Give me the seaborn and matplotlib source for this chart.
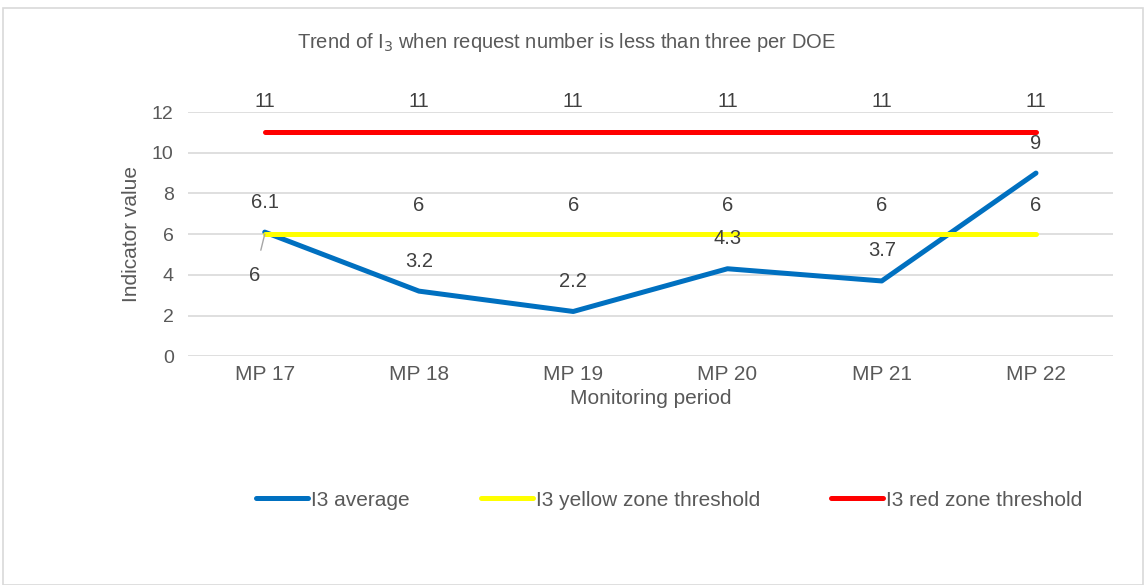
import pandas as pd
import matplotlib.pyplot as plt
import seaborn as sns
from matplotlib.patches import Rectangle

periods = ["MP 17", "MP 18", "MP 19", "MP 20", "MP 21", "MP 22"]
i3_average = [6.1, 3.2, 2.2, 4.3, 3.7, 9]
yellow_threshold = [6, 6, 6, 6, 6, 6]
red_threshold = [11, 11, 11, 11, 11, 11]

series_names = ["I3 average", "I3 yellow zone threshold", "I3 red zone threshold"]
series_colors = ["#0070C0", "#FFFF00", "#FF0000"]

rows = []
for name, vals in zip(series_names, [i3_average, yellow_threshold, red_threshold]):
    for p, v in zip(periods, vals):
        rows.append({"period": p, "value": v, "series": name})
df = pd.DataFrame(rows)

sns.set_theme(style="white")
plt.rcParams["font.family"] = ["Liberation Sans", "DejaVu Sans"]

fig = plt.figure(figsize=(11.44, 5.85), dpi=100)
ax = fig.add_axes([0.164, 0.391, 0.809, 0.4175])

sns.lineplot(data=df, x="period", y="value", hue="series", hue_order=series_names,
             palette=series_colors, linewidth=3.6, ax=ax, sort=False, legend=False,
             solid_capstyle="round")

ax.set_xlim(-0.5, len(periods) - 0.5)
ax.set_ylim(0, 12)
ax.set_yticks(range(0, 13, 2))
ax.yaxis.grid(True, color="#D9D9D9", linewidth=1.2)
ax.set_axisbelow(True)
for s in ax.spines.values():
    s.set_visible(False)
ax.tick_params(axis="x", length=0, labelsize=15, colors="#595959", pad=6)
ax.tick_params(axis="y", length=0, labelsize=14, colors="#595959", pad=10)
ax.set_xlabel("Monitoring period", fontsize=15, color="#595959", labelpad=4)
ax.set_ylabel("Indicator value", fontsize=15, color="#595959", labelpad=8)

label_kw = dict(textcoords="offset pixels", ha="center", va="center",
                fontsize=14.5, color="#404040")
for i, v in enumerate(i3_average):
    ax.annotate(f"{v:g}", (i, v), xytext=(0, 30), **label_kw)
for i, v in enumerate(yellow_threshold):
    if i == 0:
        ax.annotate(f"{v:g}", (i, v), xytext=(-10, -41),
                    arrowprops=dict(arrowstyle="-", color="#A6A6A6", lw=1,
                                    shrinkA=9, shrinkB=0), **label_kw)
    else:
        ax.annotate(f"{v:g}", (i, v), xytext=(0, 29), **label_kw)
for i, v in enumerate(red_threshold):
    ax.annotate(f"{v:g}", (i, v), xytext=(0, 31), **label_kw)

fig.text(566 / 1144, 1 - 42 / 585, "Trend of I$_3$ when request number is less than three per DOE",
         ha="center", va="center", fontsize=14.5, color="#595959")

handles = [plt.Line2D([0], [0], color=c, lw=3.6, solid_capstyle="round") for c in series_colors]
fig.legend(handles, series_names, loc="center", bbox_to_anchor=(0.585, 1 - 500 / 585),
           ncol=3, frameon=False, fontsize=15, handlelength=2.5, handletextpad=0.15,
           columnspacing=3.4, labelcolor="#595959")

fig.patches.append(Rectangle((0.003, 0.0), 0.996, 1 - 8 / 585, transform=fig.transFigure,
                             fill=False, edgecolor="#D9D9D9", linewidth=1.2))

fig.savefig("out.png", dpi=100)
